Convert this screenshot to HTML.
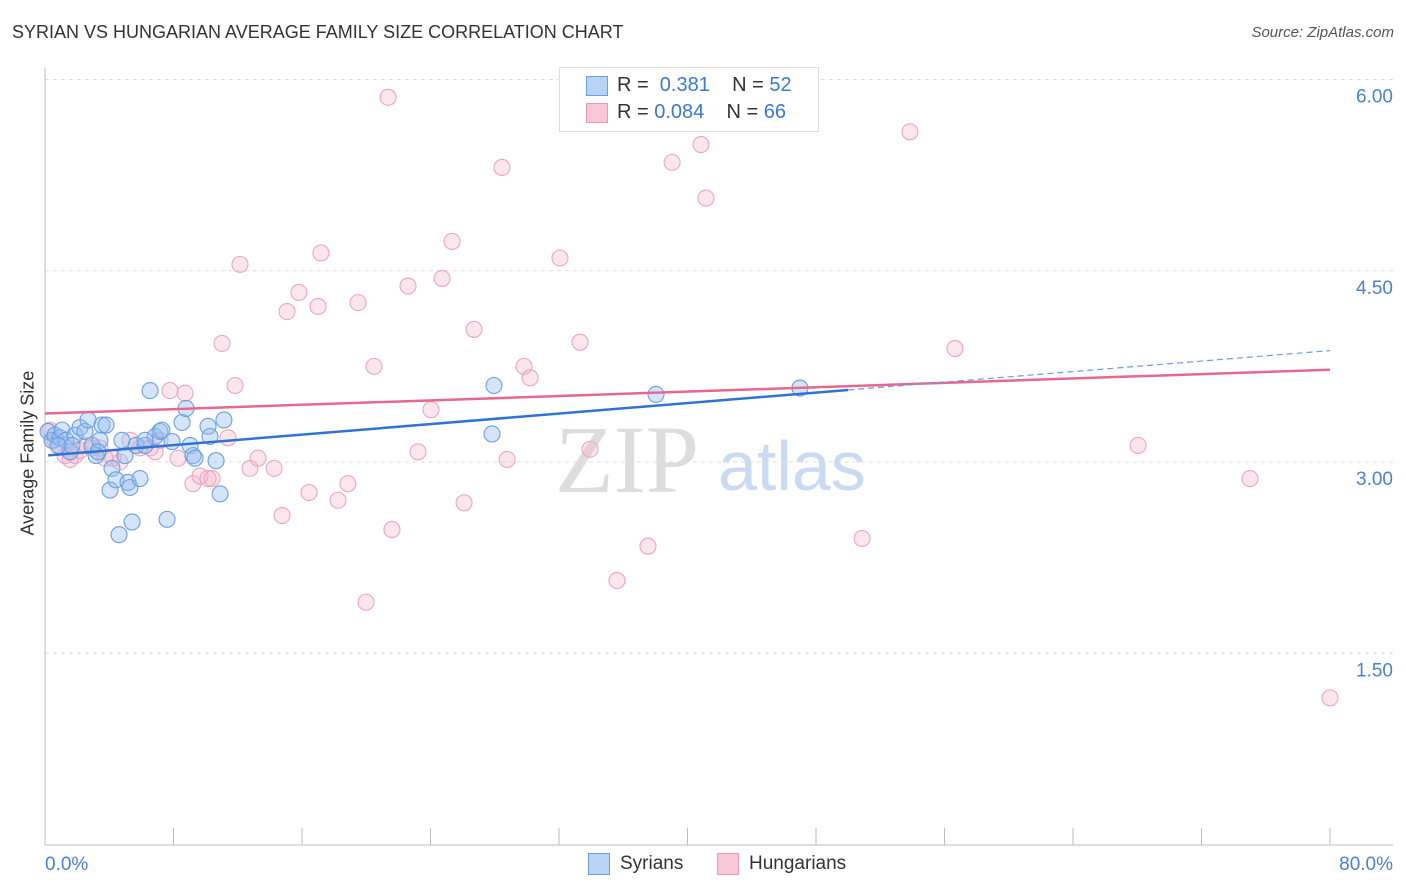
<!DOCTYPE html>
<html><head><meta charset="utf-8"><style>
body{margin:0;background:#fff;font-family:"Liberation Sans",sans-serif;}
#wrap{position:relative;width:1406px;height:892px;overflow:hidden}
.t{position:absolute;white-space:nowrap}
</style></head><body><div id="wrap">
<div class="t" style="left:12px;top:22px;font-size:18px;color:#333">SYRIAN VS HUNGARIAN AVERAGE FAMILY SIZE CORRELATION CHART</div>
<div class="t" style="right:12px;top:24px;font-size:15px;color:#555;font-style:italic">Source: ZipAtlas.com</div>
<svg id="svg" width="1406" height="892" style="position:absolute;left:0;top:0">
<text x="555" y="492" font-family="Liberation Serif,serif" font-size="96" fill="#ddd">ZIP</text>
<text x="718" y="490" font-family="Liberation Sans,sans-serif" font-size="70" fill="#c9daf2">atlas</text>
</svg>
<div style="position:absolute;left:559px;top:67px;width:258px;height:63px;border:1px solid #ddd;background:#fff"></div>
<div style="position:absolute;left:586px;top:76px;width:20px;height:18px;background:#b7d3f5;border:1px solid #6c9ee0"></div>
<div style="position:absolute;left:586px;top:103px;width:20px;height:18px;background:#f8c6d6;border:1px solid #eb9ab5"></div>
<div class="t" style="left:617px;top:74px;font-size:20px;color:#333">R = &nbsp;<span style="color:#3a78d4">0.381</span>&nbsp;&nbsp;&nbsp; N = <span style="color:#3a78d4">52</span></div>
<div class="t" style="left:617px;top:101px;font-size:20px;color:#333">R = <span style="color:#3a78d4">0.084</span>&nbsp;&nbsp;&nbsp; N = <span style="color:#3a78d4">66</span></div>
<div style="position:absolute;left:588px;top:853px;width:20px;height:20px;background:#b7d3f5;border:1px solid #6c9ee0"></div>
<div class="t" style="left:620px;top:853px;font-size:19px;color:#333">Syrians</div>
<div style="position:absolute;left:717px;top:853px;width:20px;height:20px;background:#f8c6d6;border:1px solid #eb9ab5"></div>
<div class="t" style="left:749px;top:853px;font-size:19px;color:#333">Hungarians</div>
<div class="t" style="left:-42px;top:455px;font-size:18px;color:#333;transform:rotate(-90deg);transform-origin:center;width:140px;text-align:center">Average Family Size</div>
</div>
<script>
const syrX=[0.19,0.44,0.62,0.93,1.06,1.31,1.56,1.87,2.18,2.49,2.68,2.93,3.18,3.42,3.55,3.80,4.05,4.17,4.42,4.61,4.79,4.98,5.17,5.29,5.42,5.67,5.91,6.23,6.54,6.85,7.16,7.28,7.60,7.91,8.53,8.78,9.03,9.21,9.34,10.15,10.27,10.65,10.90,11.14,27.95,27.83,38.04,47.0,0.81,1.68,3.30,6.23];
const syrY=[3.24,3.17,3.21,3.19,3.25,3.17,3.08,3.21,3.27,3.24,3.33,3.13,3.05,3.17,3.29,3.29,2.78,2.95,2.86,2.43,3.17,3.05,2.84,2.80,2.53,3.13,2.87,3.13,3.56,3.20,3.24,3.25,2.55,3.16,3.31,3.42,3.13,3.05,3.03,3.28,3.20,3.01,2.75,3.33,3.60,3.22,3.53,3.58,3.13,3.13,3.08,3.17];
const hunX=[0.31,0.62,0.93,1.25,1.56,1.87,2.18,2.49,2.93,3.42,3.74,4.23,4.67,5.29,5.91,6.54,6.85,7.16,7.78,8.28,8.72,9.21,9.65,10.15,10.40,11.02,11.39,11.83,12.14,12.76,13.26,14.26,14.76,15.07,15.81,16.44,17.0,17.18,18.24,18.86,19.49,19.99,20.48,21.36,21.60,22.60,23.22,24.03,24.72,25.34,26.09,26.71,28.45,28.77,29.82,30.20,32.06,33.31,33.93,35.61,37.54,39.04,40.84,41.15,50.87,53.85,56.65,68.05,75.02,80.0];
const hunY=[3.25,3.17,3.13,3.05,3.02,3.05,3.09,3.13,3.11,3.11,3.03,3.03,3.00,3.17,3.11,3.11,3.08,3.17,3.56,3.03,3.54,2.83,2.89,2.87,2.87,3.93,3.19,3.60,4.55,2.95,3.03,2.95,2.58,4.18,4.33,2.76,4.22,4.64,2.70,2.83,4.25,1.90,3.75,5.86,2.47,4.38,3.08,3.41,4.44,4.73,2.68,4.04,5.31,3.02,3.75,3.66,4.60,3.94,3.10,2.07,2.34,5.35,5.49,5.07,2.40,5.59,3.89,3.13,2.87,1.15];
const yTicks=[1.5,3.0,4.5,6.0];
const yTickLabels=["1.50","3.00","4.50","6.00"];
const syrTrend=[3.05,0.0103];
const hunTrend=[3.38,0.0043];
const ns="http://www.w3.org/2000/svg",svg=document.getElementById('svg');
const X=v=>45+v/80*1285, Y=v=>462-(v-3)*127.5;
function mk(tag,a){const e=document.createElementNS(ns,tag);for(const k in a)e.setAttribute(k,a[k]);svg.appendChild(e);return e;}
yTicks.forEach((t,i)=>{
 const g=mk('line',{x1:45,x2:1393,y1:Y(t),y2:Y(t),stroke:'#ddd','stroke-dasharray':'4,4'});
 
 
 const l=mk('text',{x:1393,y:Y(t)+23,'text-anchor':'end','font-size':19,fill:'#4a7fd6','font-family':'Liberation Sans,sans-serif'});
 l.textContent=yTickLabels[i];
 
 
});
const ax=mk('line',{x1:45,x2:45,y1:68,y2:845,stroke:'#bbb'});


const bx=mk('line',{x1:45,x2:1393,y1:845,y2:845,stroke:'#bbb'});


for(let i=0;i<=10;i++){const t=mk('line',{x1:X(i*8),x2:X(i*8),y1:828,y2:845,stroke:'#bbb'});
 
 }
[["0.0%",45,'start'],["80.0%",1393,'end']].forEach(d=>{const l=mk('text',{x:d[1],y:870,'text-anchor':d[2],'font-size':19,fill:'#4a7fd6','font-family':'Liberation Sans,sans-serif'});l.textContent=d[0];
 
 });
hunX.forEach((x,i)=>{const c=mk('circle',{cx:X(x),cy:Y(hunY[i]),r:8,fill:'rgba(246,178,200,0.32)',stroke:'#eca5bd','stroke-width':1.1});
 
 });
syrX.forEach((x,i)=>{const c=mk('circle',{cx:X(x),cy:Y(syrY[i]),r:8,fill:'rgba(150,190,240,0.4)',stroke:'#6a9fe2','stroke-width':1.1});
 
 });
const hl=mk('line',{x1:X(0),y1:Y(hunTrend[0]),x2:X(80),y2:Y(hunTrend[0]+80*hunTrend[1]),stroke:'#e8678f','stroke-width':2.5});


const sl=mk('line',{x1:X(0.2),y1:Y(syrTrend[0]+0.2*syrTrend[1]),x2:X(50),y2:Y(syrTrend[0]+50*syrTrend[1]),stroke:'#2f73d6','stroke-width':2.5});


const sd=mk('line',{x1:X(50),y1:Y(syrTrend[0]+50*syrTrend[1]),x2:X(80),y2:Y(syrTrend[0]+80*syrTrend[1]),stroke:'#6a9de0','stroke-width':1.2,'stroke-dasharray':'6,4'});


</script></body></html>
